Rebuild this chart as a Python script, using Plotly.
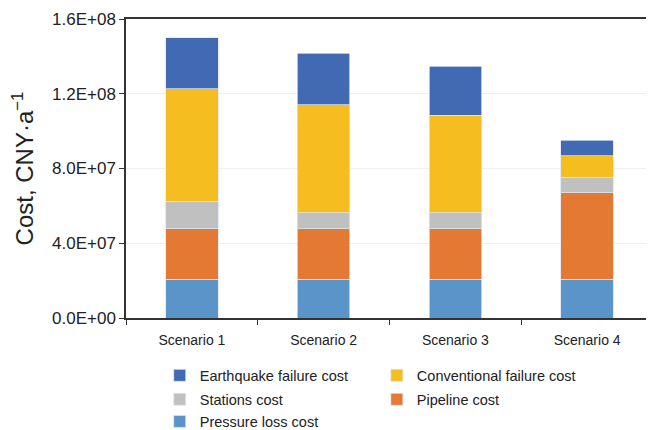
import plotly.graph_objects as go

categories = ["Scenario 1", "Scenario 2", "Scenario 3", "Scenario 4"]
pressure_loss = [2.08e7, 2.08e7, 2.07e7, 2.07e7]
pipeline = [2.70e7, 2.70e7, 2.71e7, 4.63e7]
stations = [1.47e7, 0.84e7, 0.84e7, 0.83e7]
conventional = [6.03e7, 5.79e7, 5.22e7, 1.16e7]
earthquake = [2.72e7, 2.75e7, 2.64e7, 0.82e7]

y_tickvals = [0, 4e7, 8e7, 1.2e8, 1.6e8]
y_ticktext = ["0.0E+00", "4.0E+07", "8.0E+07", "1.2E+08", "1.6E+08"]

# (name, values, colour, legend id)
series = [
    ("Pressure loss cost", pressure_loss, "#5b94c9", "legend5"),
    ("Pipeline cost", pipeline, "#e37933", "legend4"),
    ("Stations cost", stations, "#bfc0bf", "legend3"),
    ("Conventional failure cost", conventional, "#f5bd1f", "legend2"),
    ("Earthquake failure cost", earthquake, "#416ab3", "legend"),
]

fig = go.Figure()
for name, vals, color, lg in series:
    fig.add_trace(go.Bar(
        x=categories, y=vals, name=name, legend=lg,
        marker=dict(color=color, line=dict(color="rgba(220,230,245,0.9)", width=0.8)),
        width=0.4,
    ))

font = "Liberation Sans, Arial, sans-serif"
leg_font = dict(size=14.5, color="#222222")
col1_x, col2_x = 0.064, 0.476
row_y = [-0.192, -0.272, -0.346]

def leg(x, y):
    return dict(x=x, y=y, xanchor="left", yanchor="middle", orientation="v",
                font=leg_font, bgcolor="rgba(0,0,0,0)")

# the page body has an 8px margin, so the figure is sized to fill the rest
fig.update_layout(
    barmode="stack",
    width=646, height=422,
    margin=dict(l=118, r=1, t=11, b=112, autoexpand=False),
    paper_bgcolor="white", plot_bgcolor="white",
    font=dict(family=font, color="#222222", size=14),
    showlegend=True,
    legend=leg(col1_x, row_y[0]),
    legend2=leg(col2_x, row_y[0]),
    legend3=leg(col1_x, row_y[1]),
    legend4=leg(col2_x, row_y[1]),
    legend5=leg(col1_x, row_y[2]),
    xaxis=dict(
        showline=True, linecolor="#333333", linewidth=1.5, mirror=True,
        ticks="outside", tickson="boundaries", ticklen=5, tickcolor="#333333",
        tickfont=dict(size=14, color="#222222"), ticklabelstandoff=8,
        showgrid=False,
    ),
    yaxis=dict(
        range=[0, 1.6e8],
        tickvals=y_tickvals, ticktext=y_ticktext,
        showline=True, linecolor="#333333", linewidth=1.5, mirror=True,
        ticks="outside", ticklen=5, tickcolor="#333333",
        tickfont=dict(size=17, color="#222222"),
        showgrid=True, gridcolor="#efefef", gridwidth=1,
        zeroline=False,
        title=dict(text="Cost, CNY·a<sup>−1</sup>", font=dict(size=24, color="#222222"), standoff=22),
    ),
)

fig.write_html("out.html")
